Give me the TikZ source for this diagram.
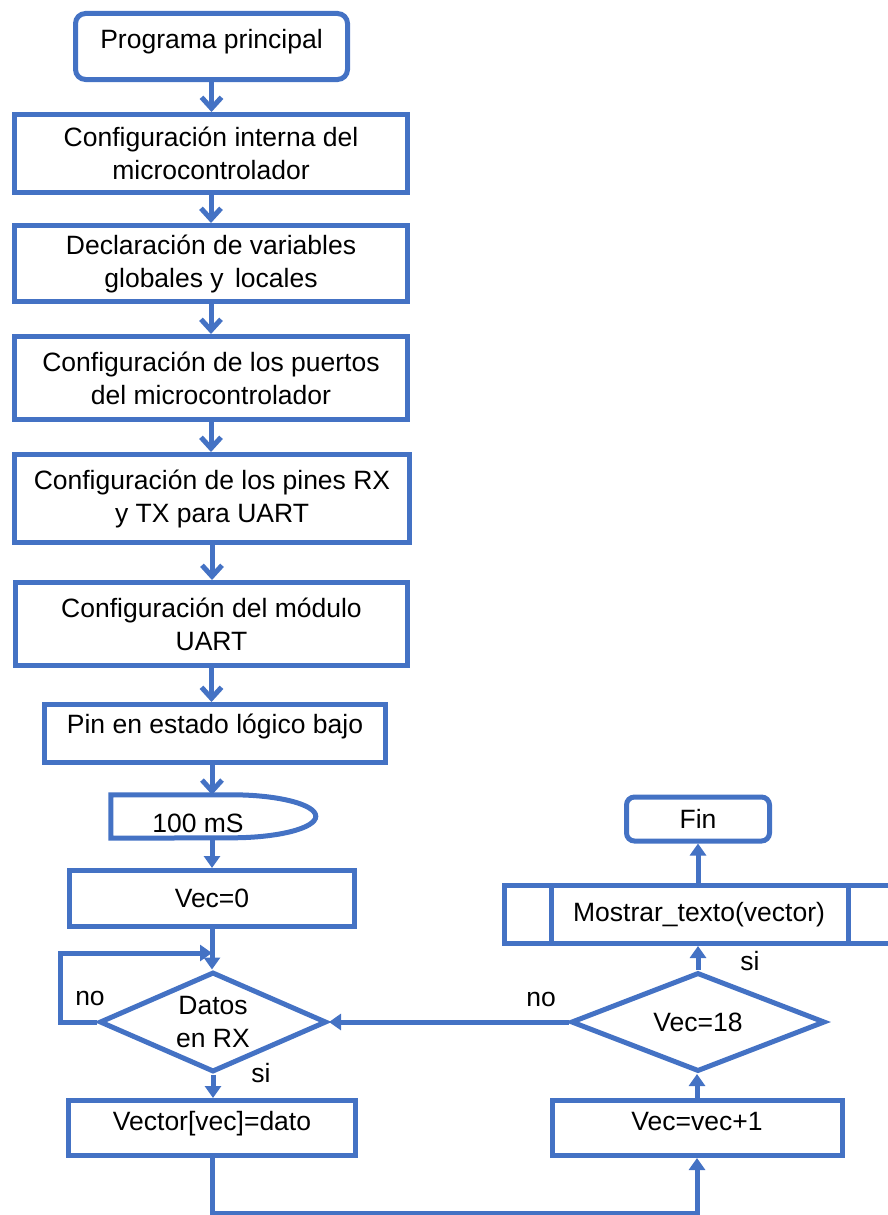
\documentclass[tikz,border=0pt]{standalone}
\usepackage{fontspec}
\setmainfont{Liberation Sans}
\usetikzlibrary{arrows.meta,shapes.geometric}
\definecolor{flowblue}{HTML}{4472C4}

\begin{document}
\begin{tikzpicture}[x=1pt,y=-1pt,
  every node/.style={font=\fontsize{26.5}{33}\selectfont, text=black, inner sep=0pt, align=center},
  flow/.style={draw=flowblue, line width=5pt},
  stepbox/.style={flow, rectangle},
  termbox/.style={stepbox, rounded corners=10pt},
  decbox/.style={flow, diamond, aspect=2.3},
  openarr/.style={flow, -{Straight Barb[length=11pt,width=20pt]}},
  fillarr/.style={flow, -{Triangle[length=12pt,width=16pt]}},
]
\useasboundingbox (0,0) rectangle (888,1215);

% main column
\node[termbox, minimum width=272pt, minimum height=66pt, text depth=15pt] (start) at (211.5,46.5) {Programa principal};
\node[stepbox, minimum width=393pt, minimum height=78pt] (b1) at (211,153.5) {Configuración interna del\\microcontrolador};
\node[stepbox, minimum width=393pt, minimum height=76pt] (b2) at (211,263.5) {Declaración de variables\\globales y\hspace{4pt} locales};
\node[stepbox, minimum width=393pt, minimum height=83pt] (b3) at (211,378) {Configuración de los puertos\\del microcontrolador};
\node[stepbox, minimum width=395pt, minimum height=88pt] (b4) at (212,498.5) {Configuración de los pines RX\\y TX para UART};
\node[stepbox, minimum width=392pt, minimum height=83pt] (b5) at (211.5,624) {Configuración del módulo\\UART};
\node[stepbox, minimum width=341pt, minimum height=58pt, text depth=20pt] (b6) at (215,733.5) {Pin en estado lógico bajo};

% delay
\node[minimum width=205pt, minimum height=43pt] (delay) at (213.5,816.5) {};
\draw[flow] (delay.north west) -- ++(121pt,0) arc[start angle=90, end angle=-90, x radius=84pt, y radius=21.5pt] -- (delay.south west) -- cycle;
\node (delaytxt) at (198,823) {100 mS};

\node[stepbox, minimum width=285pt, minimum height=56pt] (vec0) at (212,898.5) {Vec=0};
\node[decbox, minimum width=227pt, minimum height=100pt] (dat) at (213,1022) {Datos\\en RX};
\node[stepbox, minimum width=287pt, minimum height=55pt, text depth=14pt] (vect) at (212,1128) {Vector[vec]=dato};

% right column
\node[stepbox, minimum width=290pt, minimum height=55pt, text depth=14pt] (inc) at (697,1128) {Vec=vec+1};
\node[decbox, minimum width=254pt, minimum height=99pt] (chk) at (698,1022) {Vec=18};
\node[stepbox, minimum width=390pt, minimum height=58pt] (show) at (699,914.5) {Mostrar\_texto(vector)};
\draw[flow] ([xshift=50pt]show.north west) -- ([xshift=50pt]show.south west);
\draw[flow] ([xshift=-48pt]show.north east) -- ([xshift=-48pt]show.south east);
\node[termbox, rounded corners=8pt, minimum width=143pt, minimum height=44pt] (fin) at (698,819) {Fin};

% branch labels
\node (no1) at (90,998) {no};
\node (si1) at (261,1073) {si};
\node (no2) at (541,999) {no};
\node (si2) at (750,961) {si};

% connectors
\draw[openarr] (start.south) -- (start.south |- b1.north);
\draw[openarr] (b1.south) -- (b1.south |- b2.north);
\draw[openarr] (b2.south) -- (b2.south |- b3.north);
\draw[openarr] (b3.south) -- (b3.south |- b4.north);
\draw[openarr] (b4.south) -- (b4.south |- b5.north);
\draw[openarr] (b5.south) -- (b5.south |- b6.north);
\draw[openarr] (b6.south -| vec0.north) -- (delay.north -| vec0.north);
\draw[fillarr] (delay.south -| vec0.north) -- (vec0.north);
\draw[fillarr] (vec0.south) -- (vec0.south |- dat.north);

\coordinate (loopc) at (60,953);
\draw[fillarr] (dat.west) -- (dat.west -| loopc) -- (loopc) -- (loopc -| vec0.south);

\draw[fillarr] (dat.south) -- (dat.south |- vect.north);

\coordinate (bot) at (0,1213);
\draw[fillarr] (vect.south) -- (vect.south |- bot) -| (inc.south);

\draw[fillarr] (inc.north) -- (inc.north |- chk.south);
\draw[fillarr] (chk.west) -- (dat.east);
\draw[fillarr] (chk.north) -- (chk.north |- show.south);
\draw[fillarr] (show.north -| fin.south) -- (fin.south);
\end{tikzpicture}
\end{document}
